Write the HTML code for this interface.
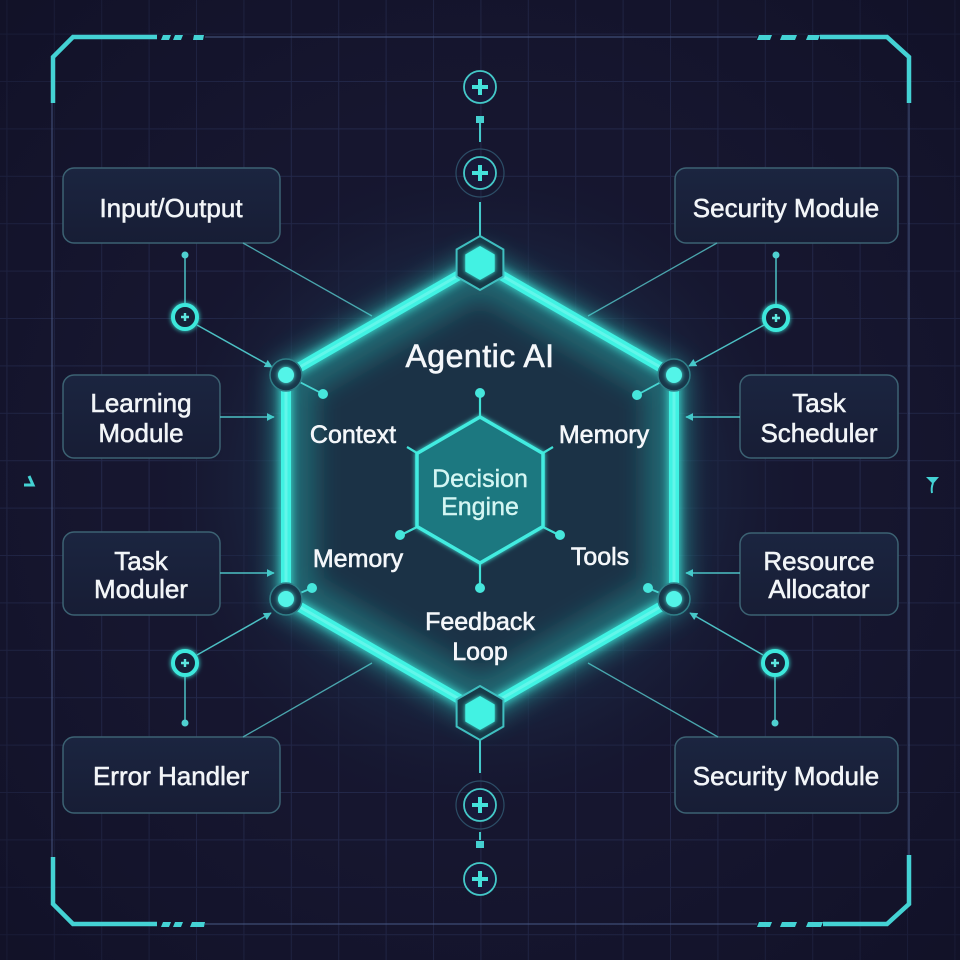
<!DOCTYPE html>
<html><head><meta charset="utf-8"><style>
html,body{margin:0;padding:0;background:#16162f;}
svg{display:block}
text{font-family:"Liberation Sans",sans-serif;}
</style></head><body>
<svg width="960" height="960" viewBox="0 0 960 960" xmlns="http://www.w3.org/2000/svg">
<defs>
<pattern id="grid" x="6.4" y="33.6" width="47.4" height="47.4" patternUnits="userSpaceOnUse">
<path d="M0 0.5 H47.4 M0.5 0 V47.4" stroke="#23284a" stroke-width="1" fill="none"/>
</pattern>
<radialGradient id="bgglow" cx="480" cy="487" r="340" gradientUnits="userSpaceOnUse">
<stop offset="0" stop-color="#1c3048" stop-opacity="1"/>
<stop offset="0.7" stop-color="#1a2540" stop-opacity="0.6"/>
<stop offset="1" stop-color="#16162f" stop-opacity="0"/>
</radialGradient>
<radialGradient id="vig" cx="480" cy="480" r="680" gradientUnits="userSpaceOnUse">
<stop offset="0.55" stop-color="#0e0e22" stop-opacity="0"/>
<stop offset="1" stop-color="#0e0e22" stop-opacity="0.55"/>
</radialGradient>
<linearGradient id="boxg" x1="0" y1="0" x2="0" y2="1">
<stop offset="0" stop-color="#1b2540"/>
<stop offset="1" stop-color="#171d35"/>
</linearGradient>
<filter id="glow" x="-30%" y="-30%" width="160%" height="160%">
<feGaussianBlur stdDeviation="5" result="b"/>
<feMerge><feMergeNode in="b"/><feMergeNode in="SourceGraphic"/></feMerge>
</filter>
<filter id="blur12" x="-30%" y="-30%" width="160%" height="160%"><feGaussianBlur stdDeviation="12"/></filter>
<filter id="soft" x="-50%" y="-50%" width="200%" height="200%"><feGaussianBlur stdDeviation="2.5" result="b"/><feMerge><feMergeNode in="b"/><feMergeNode in="SourceGraphic"/></feMerge></filter>
<clipPath id="hexclip"><polygon points="480,263 674,375 674,599 480,711 286,599 286,375"/></clipPath>
<marker id="arr" viewBox="0 0 10 10" refX="9" refY="5" markerWidth="8" markerHeight="8" markerUnits="userSpaceOnUse" orient="auto"><path d="M0,0 L10,5 L0,10 z" fill="#48c6c8"/></marker>
</defs>

<rect width="960" height="960" fill="#16162f"/>
<rect width="960" height="960" fill="url(#grid)"/>
<rect width="960" height="960" fill="url(#bgglow)"/>
<rect width="960" height="960" fill="url(#vig)"/>

<!-- frame thin lines -->
<g stroke="#4a5a86" stroke-width="1.2" fill="none" opacity="0.8">
<line x1="205" y1="37" x2="757" y2="37"/>
<line x1="205" y1="924" x2="757" y2="924"/>
<line x1="52" y1="103" x2="52" y2="857"/>
<line x1="909" y1="103" x2="909" y2="855"/>
</g>
<!-- frame corners -->
<g stroke="#44d2d4" stroke-width="4.5" fill="none" stroke-linejoin="miter">
<polyline points="53,103 53,57 73,37 157,37"/>
<polyline points="53,857 53,904 73,924 157,924"/>
<polyline points="820,37 887,37 909,57 909,103"/>
<polyline points="823,924 887,924 909,904 909,855"/>
</g>
<g fill="#44d2d4">
<polygon points="163,35 171,35 169,40 161,40"/>
<polygon points="175,35 183,35 181,40 173,40"/>
<polygon points="194,35 204,35 203,40 193,40"/>
<polygon points="163,922 171,922 169,927 161,927"/>
<polygon points="175,922 183,922 181,927 173,927"/>
<polygon points="192,922 205,922 204,927 190,927"/>
<polygon points="759,35 772,35 770,40 757,40"/>
<polygon points="782,35 797,35 795,40 780,40"/>
<polygon points="808,35 820,35 818,40 806,40"/>
<polygon points="759,922 772,922 770,927 757,927"/>
<polygon points="782,922 797,922 795,927 780,927"/>
<polygon points="808,922 823,922 821,927 806,927"/>
</g>
<!-- edge glyphs -->
<polyline points="24,485 33,485 29,476" stroke="#44d2d4" stroke-width="3" fill="none"/>
<polygon points="926,477 939,477 933,484" fill="#44d2d4"/>
<path d="M933,483 Q931,488 932,493" stroke="#44d2d4" stroke-width="2" fill="none"/>

<!-- boxes -->
<g fill="url(#boxg)" stroke="#3c6273" stroke-width="1.5">
<rect x="63" y="168" width="217" height="75" rx="11"/>
<rect x="63" y="375" width="157" height="83" rx="11"/>
<rect x="63" y="532" width="157" height="83" rx="11"/>
<rect x="63" y="737" width="217" height="76" rx="11"/>
<rect x="675" y="168" width="223" height="75" rx="11"/>
<rect x="740" y="375" width="158" height="83" rx="11"/>
<rect x="740" y="533" width="158" height="82" rx="11"/>
<rect x="675" y="737" width="223" height="76" rx="11"/>
</g>

<!-- connectors -->
<g stroke="#4aa5ad" stroke-width="1.3" fill="none">
<line x1="243" y1="243" x2="372" y2="316"/>
<line x1="243" y1="737" x2="372" y2="663"/>
<line x1="717" y1="243" x2="588" y2="316"/>
<line x1="718" y1="737" x2="588" y2="663"/>
</g>
<g stroke="#4cc0c4" stroke-width="1.5" fill="none">
<line x1="185" y1="255" x2="185" y2="303"/>
<line x1="185" y1="677" x2="185" y2="723"/>
<line x1="776" y1="255" x2="776" y2="304"/>
<line x1="775" y1="677" x2="775" y2="723"/>
<line x1="197" y1="325" x2="272" y2="367" marker-end="url(#arr)"/>
<line x1="197" y1="655" x2="271" y2="613" marker-end="url(#arr)"/>
<line x1="764" y1="325" x2="689" y2="366" marker-end="url(#arr)"/>
<line x1="763" y1="655" x2="690" y2="613" marker-end="url(#arr)"/>
<line x1="220" y1="417" x2="274" y2="417" marker-end="url(#arr)"/>
<line x1="220" y1="573" x2="274" y2="573" marker-end="url(#arr)"/>
<line x1="740" y1="417" x2="686" y2="417" marker-end="url(#arr)"/>
<line x1="740" y1="573" x2="686" y2="573" marker-end="url(#arr)"/>
</g>
<g fill="#4fd0d0">
<circle cx="185" cy="255" r="3.5"/>
<circle cx="185" cy="723" r="3.5"/>
<circle cx="776" cy="255" r="3.5"/>
<circle cx="775" cy="723" r="3.5"/>
</g>
<!-- side plus circles -->
<g filter="url(#soft)">
<circle cx="185" cy="317" r="12" fill="#172038" stroke="#3ee8dc" stroke-width="4"/>
<circle cx="185" cy="663" r="12" fill="#172038" stroke="#3ee8dc" stroke-width="4"/>
<circle cx="776" cy="318" r="12" fill="#172038" stroke="#3ee8dc" stroke-width="4"/>
<circle cx="775" cy="663" r="12" fill="#172038" stroke="#3ee8dc" stroke-width="4"/>
</g>
<g stroke="#5ee8e0" stroke-width="2.4">
<path d="M181,317 H189 M185,313 V321"/>
<path d="M181,663 H189 M185,659 V667"/>
<path d="M772,318 H780 M776,314 V322"/>
<path d="M771,663 H779 M775,659 V667"/>
</g>

<!-- vertical axis top -->
<g>
<circle cx="480" cy="87" r="16" fill="#18193a" stroke="#44c8c8" stroke-width="1.8"/>
<path d="M472,87 H488 M480,79 V95" stroke="#45e0da" stroke-width="4"/>
<rect x="476" y="116" width="8" height="7" fill="#45d0d0"/>
<line x1="480" y1="123" x2="480" y2="142" stroke="#45c8c8" stroke-width="2"/>
<circle cx="480" cy="173" r="24" fill="none" stroke="#2c4d66" stroke-width="1.2"/>
<circle cx="480" cy="173" r="16" fill="#18193a" stroke="#44c8c8" stroke-width="1.8"/>
<path d="M472,173 H488 M480,165 V181" stroke="#45e0da" stroke-width="4"/>
<line x1="480" y1="202" x2="480" y2="238" stroke="#45c8c8" stroke-width="2"/>
</g>
<!-- vertical axis bottom -->
<g>
<line x1="480" y1="740" x2="480" y2="773" stroke="#45c8c8" stroke-width="2"/>
<circle cx="480" cy="805" r="24" fill="none" stroke="#2c4d66" stroke-width="1.2"/>
<circle cx="480" cy="805" r="16" fill="#18193a" stroke="#44c8c8" stroke-width="1.8"/>
<path d="M472,805 H488 M480,797 V813" stroke="#45e0da" stroke-width="4"/>
<line x1="480" y1="832" x2="480" y2="840" stroke="#45c8c8" stroke-width="2"/>
<rect x="476" y="841" width="8" height="7" fill="#45d0d0"/>
<circle cx="480" cy="879" r="16" fill="#18193a" stroke="#44c8c8" stroke-width="1.8"/>
<path d="M472,879 H488 M480,871 V887" stroke="#45e0da" stroke-width="4"/>
</g>

<!-- hexagon -->
<polygon points="480,263 674,375 674,599 480,711 286,599 286,375" fill="none" stroke="#30e0d4" stroke-width="26" opacity="0.45" filter="url(#blur12)"/>
<polygon points="480,263 674,375 674,599 480,711 286,599 286,375" fill="#1b3246"/>
<g clip-path="url(#hexclip)">
<polygon points="480,263 674,375 674,599 480,711 286,599 286,375" fill="none" stroke="#2cc4bc" stroke-width="60" stroke-opacity="0.35" filter="url(#blur12)"/>
</g>
<polygon points="480,263 674,375 674,599 480,711 286,599 286,375" fill="none" stroke="#40f2e3" stroke-width="10" stroke-linejoin="round" filter="url(#glow)"/>
<polygon points="480,263 674,375 674,599 480,711 286,599 286,375" fill="none" stroke="#7af8ee" stroke-width="3" stroke-linejoin="round" opacity="0.6"/>

<!-- top/bottom hex nodes -->
<polygon points="480,236 503.4,249.5 503.4,276.5 480,290 456.6,276.5 456.6,249.5" fill="#173a48" stroke="#3fbfc0" stroke-width="2"/>
<polygon points="480,246 494.7,254.5 494.7,271.5 480,280 465.3,271.5 465.3,254.5" fill="#43f2e3" filter="url(#soft)"/>
<polygon points="480,686 503.4,699.5 503.4,726.5 480,740 456.6,726.5 456.6,699.5" fill="#173a48" stroke="#3fbfc0" stroke-width="2"/>
<polygon points="480,696 494.7,704.5 494.7,721.5 480,730 465.3,721.5 465.3,704.5" fill="#43f2e3" filter="url(#soft)"/>

<!-- outer vertex spokes -->
<g stroke="#48d6d2" stroke-width="1.8">
<line x1="286" y1="375" x2="323" y2="394"/>
<line x1="674" y1="375" x2="637" y2="395"/>
<line x1="286" y1="599" x2="312" y2="588"/>
<line x1="674" y1="599" x2="648" y2="588"/>
</g>
<g fill="#46e6dc">
<circle cx="323" cy="394" r="5"/>
<circle cx="637" cy="395" r="5"/>
<circle cx="312" cy="588" r="5"/>
<circle cx="648" cy="588" r="5"/>
</g>
<!-- side vertex nodes -->
<g>
<circle cx="286" cy="375" r="16" fill="#18374a" stroke="#2f7f88" stroke-width="1.5"/>
<circle cx="674" cy="375" r="16" fill="#18374a" stroke="#2f7f88" stroke-width="1.5"/>
<circle cx="286" cy="599" r="16" fill="#18374a" stroke="#2f7f88" stroke-width="1.5"/>
<circle cx="674" cy="599" r="16" fill="#18374a" stroke="#2f7f88" stroke-width="1.5"/>
</g>
<g fill="#52f4e8" filter="url(#soft)">
<circle cx="286" cy="375" r="8"/>
<circle cx="674" cy="375" r="8"/>
<circle cx="286" cy="599" r="8"/>
<circle cx="674" cy="599" r="8"/>
</g>

<!-- inner hexagon -->
<g stroke="#40e0d6" stroke-width="2.2">
<line x1="480" y1="417" x2="480" y2="395"/>
<line x1="417" y1="527" x2="401" y2="535"/>
<line x1="543" y1="527" x2="559" y2="535"/>
<line x1="480" y1="563" x2="480" y2="587"/>
<line x1="417" y1="453" x2="407" y2="447"/>
<line x1="543" y1="453" x2="553" y2="447"/>
</g>
<g fill="#46e6dc">
<circle cx="480" cy="393" r="5"/>
<circle cx="400" cy="535" r="5"/>
<circle cx="560" cy="535" r="5"/>
<circle cx="480" cy="588" r="5"/>
</g>
<polygon points="480,417 543,453.5 543,526.5 480,563 417,526.5 417,453.5" fill="#1f7880" stroke="#42ece0" stroke-width="3.5" filter="url(#soft)"/>

<!-- hexagon labels -->
<g fill="#f4f7fa" stroke="#f4f7fa" stroke-width="0.6" text-anchor="middle">
<text x="480" y="367" font-size="32" letter-spacing="0.5">Agentic AI</text>
<text x="353" y="443" font-size="25">Context</text>
<text x="604" y="443" font-size="25">Memory</text>
<text x="358" y="567" font-size="25">Memory</text>
<text x="600" y="565" font-size="25">Tools</text>
<text x="480" y="630" font-size="25">Feedback</text>
<text x="480" y="660" font-size="25">Loop</text>
</g>
<g fill="#d4f6f3" stroke="#d4f6f3" stroke-width="0.4" text-anchor="middle">
<text x="480" y="487" font-size="25">Decision</text>
<text x="480" y="515" font-size="25">Engine</text>
</g>

<!-- box labels -->
<g fill="#f2f5f8" stroke="#f2f5f8" stroke-width="0.55" text-anchor="middle" font-size="26">
<text x="171" y="217">Input/Output</text>
<text x="141" y="412">Learning</text>
<text x="141" y="442">Module</text>
<text x="141" y="570">Task</text>
<text x="141" y="598">Moduler</text>
<text x="171" y="785">Error Handler</text>
<text x="786" y="217">Security Module</text>
<text x="819" y="412">Task</text>
<text x="819" y="442">Scheduler</text>
<text x="819" y="570">Resource</text>
<text x="819" y="598">Allocator</text>
<text x="786" y="785">Security Module</text>
</g>
</svg>
</body></html>
